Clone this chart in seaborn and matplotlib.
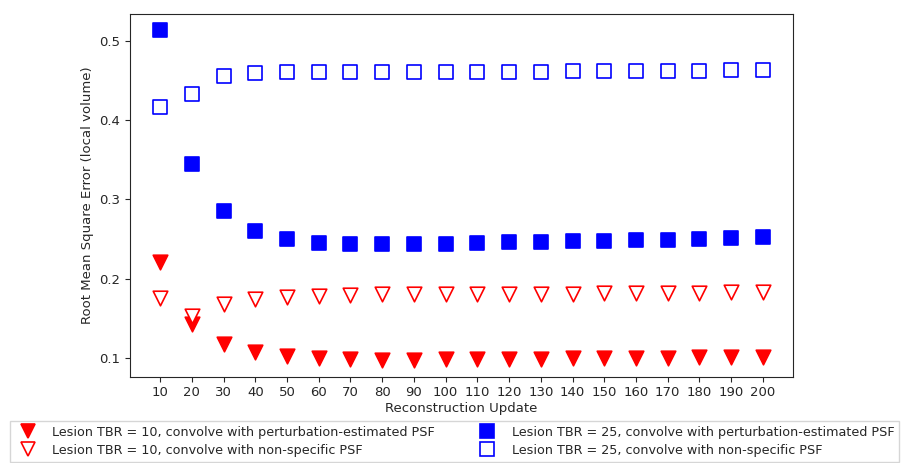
import numpy as np
import pandas as pd
import matplotlib
matplotlib.use("Agg")
import matplotlib.pyplot as plt
import seaborn as sns

updates = [10, 20, 30, 40, 50, 60, 70, 80, 90, 100,
           110, 120, 130, 140, 150, 160, 170, 180, 190, 200]

tbr10_perturb = [0.221, 0.143, 0.118, 0.107, 0.102, 0.100, 0.098, 0.097, 0.097, 0.098,
                 0.0985, 0.099, 0.099, 0.0995, 0.100, 0.100, 0.100, 0.101, 0.101, 0.101]
tbr10_nonspec = [0.176, 0.153, 0.168, 0.174, 0.177, 0.178, 0.179, 0.180, 0.180, 0.181,
                 0.181, 0.181, 0.181, 0.181, 0.182, 0.182, 0.182, 0.182, 0.183, 0.183]
tbr25_perturb = [0.513, 0.345, 0.285, 0.260, 0.250, 0.245, 0.243, 0.243, 0.244, 0.244,
                 0.245, 0.246, 0.246, 0.247, 0.248, 0.249, 0.249, 0.250, 0.251, 0.252]
tbr25_nonspec = [0.416, 0.433, 0.455, 0.459, 0.460, 0.460, 0.460, 0.460, 0.460, 0.460,
                 0.461, 0.461, 0.461, 0.462, 0.462, 0.462, 0.462, 0.462, 0.463, 0.463]

labels = [
    "Lesion TBR = 10, convolve with perturbation-estimated PSF",
    "Lesion TBR = 10, convolve with non-specific PSF",
    "Lesion TBR = 25, convolve with perturbation-estimated PSF",
    "Lesion TBR = 25, convolve with non-specific PSF",
]

sns.set_style("ticks")
plt.rcParams['font.family'] = ['DejaVu Sans']

fs = 9.5
lfs = 9.2
fig = plt.figure(figsize=(9.07, 4.63), dpi=100)
ax = fig.add_axes([0.1433, 0.1864, 0.731, 0.7834])

series = [
    (tbr10_perturb, "v", "red", "red"),
    (tbr10_nonspec, "v", "white", "red"),
    (tbr25_perturb, "s", "blue", "blue"),
    (tbr25_nonspec, "s", "white", "blue"),
]
handles = []
for (vals, mk, fc, ec), lab in zip(series, labels):
    df = pd.DataFrame({"update": updates, "rmse": vals})
    sns.scatterplot(data=df, x="update", y="rmse", marker=mk, s=110,
                    facecolor=fc, edgecolor=ec, linewidth=1.2, ax=ax, zorder=3)
    handles.append(plt.Line2D([], [], linestyle="none", marker=mk, markersize=10.5,
                              markerfacecolor=fc, markeredgecolor=ec, markeredgewidth=1.2))

ax.set_xticks(updates)
ax.set_xticklabels([str(u) for u in updates])
ax.set_yticks([0.1, 0.2, 0.3, 0.4, 0.5])
ax.tick_params(labelsize=fs)
ax.set_xlabel("Reconstruction Update", fontsize=fs, labelpad=2)
ax.set_ylabel("Root Mean Square Error (local volume)", fontsize=fs)
for sp in ax.spines.values():
    sp.set_visible(True)

fig.legend(handles, labels, loc="upper left", bbox_to_anchor=(0.011, 0.0914),
           ncol=2, fontsize=lfs, frameon=True, borderaxespad=0, fancybox=False,
           columnspacing=3.1, handletextpad=0.9, labelspacing=0.4)

fig.savefig("out.png", dpi=100)
